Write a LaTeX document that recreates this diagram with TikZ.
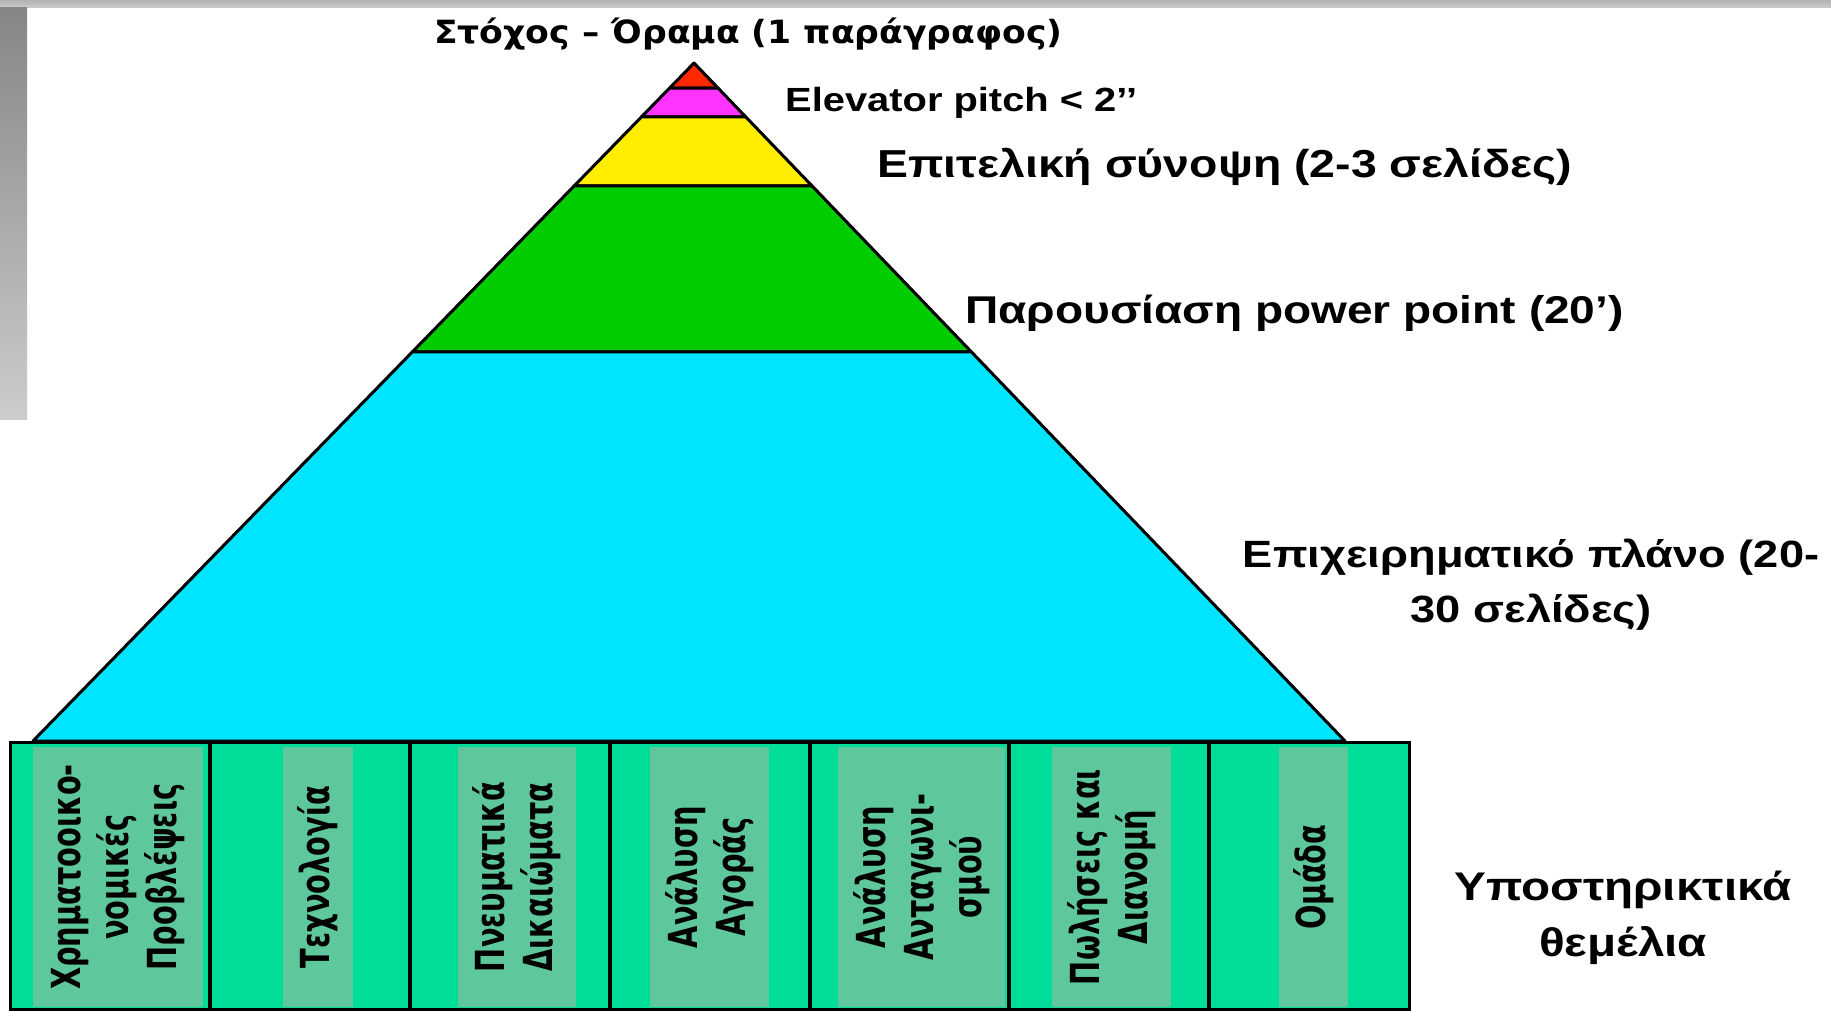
\documentclass[tikz,border=0pt]{standalone}
\usepackage{fontspec}
\usetikzlibrary{calc}
\newfontfamily\lblfont{Liberation Sans}[FakeStretch=1.19]
\newfontfamily\boxfont{DejaVu Sans}[FakeStretch=0.72]
\newfontfamily\topfont{DejaVu Sans}[FakeStretch=1.08]
\definecolor{tipred}{RGB}{255,40,0}
\definecolor{pitchpink}{RGB}{255,51,255}
\definecolor{sumyellow}{RGB}{255,238,0}
\definecolor{pptgreen}{RGB}{0,204,0}
\definecolor{plancyan}{RGB}{0,229,255}
\definecolor{pillardark}{RGB}{0,221,153}
\definecolor{pillarlight}{RGB}{94,200,156}

\tikzset{
  layer/.style={draw=black, line width=3pt, line join=round},
  lbl/.style n args={2}{inner sep=0pt,
    font=\lblfont\bfseries\fontsize{#1}{#2}\selectfont},
  pillar/.style={rotate=90, align=center, inner sep=0pt,
    font=\boxfont\bfseries\fontsize{40}{48}\selectfont},
}

\begin{document}
\begin{tikzpicture}[x=1pt, y=-1pt]
    \useasboundingbox (0,0) rectangle (1831,1011);
    \fill[white] (0,0) rectangle (1831,1011);
    % slide frame
    \shade[top color=gray!60, bottom color=gray!40] (0,0) rectangle (1831,8);
    \shade[top color=gray!95, bottom color=gray!40] (0,8) rectangle (27,419);

    % pyramid
    \coordinate (apex) at (694,63);
    \coordinate (bl) at (33,741);
    \coordinate (br) at (1345,741);
    \foreach \ta/\tb/\col in {0/0.0369/tipred, 0.0369/0.0796/pitchpink,
        0.0796/0.1814/sumyellow, 0.1814/0.426/pptgreen, 0.426/1/plancyan}
        \filldraw[layer, fill=\col] ($(apex)!\ta!(bl)$) -- ($(apex)!\tb!(bl)$)
            -- ($(apex)!\tb!(br)$) -- ($(apex)!\ta!(br)$) -- cycle;

    % foundations
    \fill[pillardark] (10,742) rectangle (1409,1011);
    \foreach \xa/\xb/\txt [count=\i] in {
        33/203/{Χρηματοοικο-\\νομικές\\Προβλέψεις},
        283/353/{Τεχνολογία},
        458/576/{Πνευματικά\\Δικαιώματα},
        650/769/{Ανάλυση\\Αγοράς},
        838/1005/{Ανάλυση\\Ανταγωνι-\\σμού},
        1052/1171/{Πωλήσεις και\\Διανομή},
        1279/1348/{Ομάδα}}
    {
        \fill[pillarlight] (\xa,747) rectangle (\xb,1007);
        \node[pillar] (p\i) at ({(\xa+\xb)/2},877) {\txt};
    }
    \draw[line width=3pt] (10,742) rectangle (1409,1009);
    \foreach \x in {210,410,610,810,1009,1209}
        \draw[line width=3.5pt] (\x,742) -- (\x,1009);

    % labels
    \node[inner sep=0pt, anchor=base west, font=\topfont\bfseries\fontsize{32}{38}\selectfont]
        (vision) at (434,44) {Στόχος – Όραμα (1 παράγραφος)};
    \node[lbl={33.5}{40}, anchor=base west]
        (pitch) at (785,112) {Elevator pitch < 2’’};
    \node[lbl={39}{47}, anchor=base west]
        (summary) at (877,178) {Επιτελική σύνοψη (2-3 σελίδες)};
    \node[lbl={38.7}{46}, anchor=base west]
        (slides) at (965,323) {Παρουσίαση power point (20’)};
    \node[lbl={38}{55}, align=center, anchor=base]
        (plan) at (1531,622) {Επιχειρηματικό πλάνο (20-\\30 σελίδες)};
    \node[lbl={40}{56}, align=center, anchor=base]
        (basis) at (1623,956) {Υποστηρικτικά\\θεμέλια};
\end{tikzpicture}
\end{document}
